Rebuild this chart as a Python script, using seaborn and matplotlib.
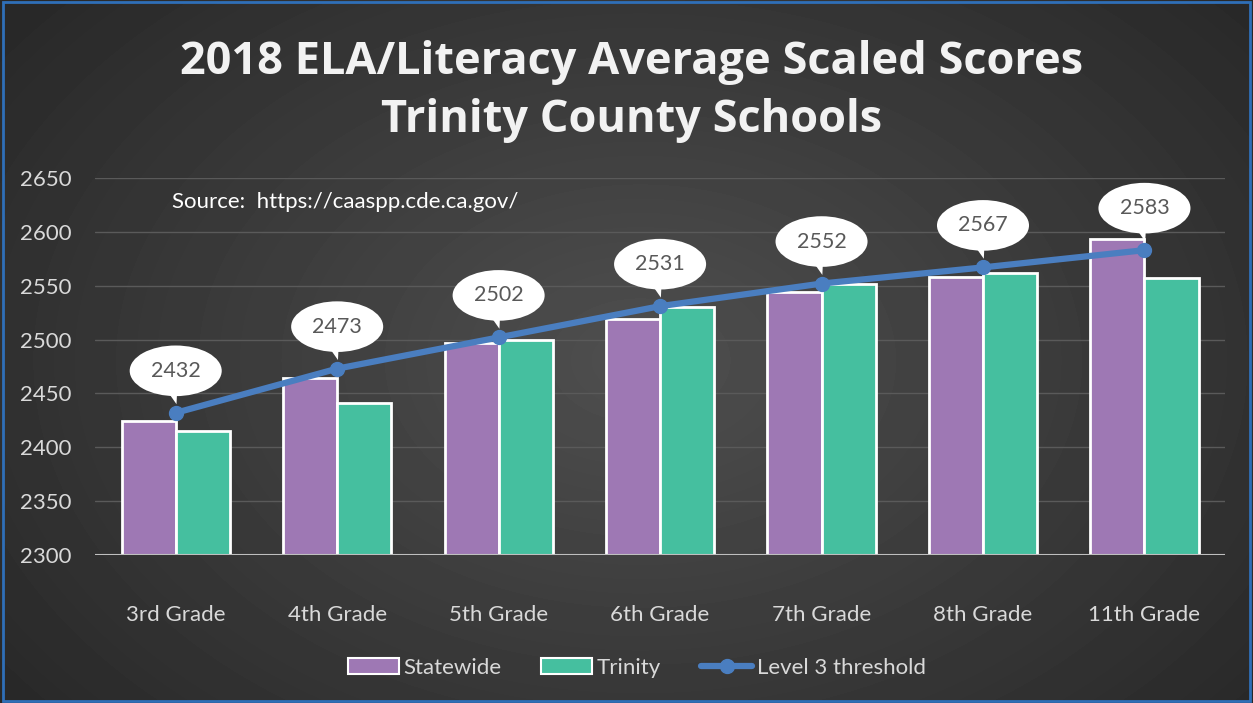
import numpy as np
import pandas as pd
import matplotlib.pyplot as plt
import matplotlib as mpl
from matplotlib.patches import Ellipse, Polygon, Patch, Rectangle
from matplotlib.lines import Line2D
import seaborn as sns

grades = ['3rd Grade', '4th Grade', '5th Grade', '6th Grade', '7th Grade', '8th Grade', '11th Grade']
statewide = [2424, 2464, 2497, 2519, 2544, 2558, 2593]
trinity = [2415, 2441, 2500, 2530, 2552, 2562, 2557]
threshold = [2432, 2473, 2502, 2531, 2552, 2567, 2583]
yticks = [2300, 2350, 2400, 2450, 2500, 2550, 2600, 2650]

PURPLE = '#9e78b4'
TEAL = '#45bf9f'
BLUE = '#4a7ec0'
TXT = '#d9d9d9'

sns.set_theme(style='dark')
plt.rcParams['font.family'] = ['Lato', 'DejaVu Sans']

fig = plt.figure(figsize=(12.53, 7.03), dpi=100)

# radial dark gradient background
bg = fig.add_axes([0, 0, 1, 1], zorder=-10)
yy, xx = np.mgrid[0:703, 0:1253]
r = np.sqrt(((xx - 640) / 900) ** 2 + ((yy - 360) / 620) ** 2)
shade = np.clip(0.31 - 0.17 * r, 0.11, 0.31)
bg.imshow(shade, cmap='gray', vmin=0, vmax=1, aspect='auto', extent=[0, 1, 0, 1])
bg.axis('off')
fig.patches.append(Rectangle((0.002, 0.003), 0.996, 0.994, transform=fig.transFigure,
                             fill=False, edgecolor='#2f6fb8', linewidth=2))

ax = fig.add_axes([0.0758, 0.2105, 0.902, 0.5363])
ax.set_facecolor('none')

df = pd.DataFrame({
    'grade': grades * 2,
    'score': statewide + trinity,
    'series': ['Statewide'] * len(grades) + ['Trinity'] * len(grades),
})
sns.barplot(data=df, x='grade', y='score', hue='series', palette=[PURPLE, TEAL],
            saturation=1, width=0.67, edgecolor='white', linewidth=2, ax=ax,
            legend=False, zorder=2)

x = np.arange(len(grades))
ax.plot(x, threshold, color=BLUE, linewidth=4.5, marker='o', markersize=10, zorder=4)

# callout balloons
for i, v in enumerate(threshold):
    ax.add_patch(Polygon([(i - 0.07, v + 24), (i + 0.01, v + 24), (i + 0.005, v + 8)],
                         closed=True, facecolor='white', edgecolor='none', zorder=5))
    ax.add_patch(Ellipse((i, v + 39), 0.57, 47, facecolor='white', edgecolor='none', zorder=5))
    ax.text(i, v + 39, f'{v}', ha='center', va='center', fontsize=15.5, color='#595959', zorder=6)

ax.set_xlim(-0.5, len(grades) - 0.5)
ax.set_ylim(2300, 2650)
ax.set_yticks(yticks)
ax.set_yticklabels([str(t) for t in yticks], fontsize=16, color=TXT)
ax.set_xticks(x)
ax.set_xticklabels(grades, fontsize=16, color=TXT)
ax.tick_params(axis='x', pad=36, length=0)
ax.tick_params(axis='y', pad=17, length=0)
ax.set_xlabel('')
ax.set_ylabel('')
ax.grid(axis='y', color='#5a5a5a', linewidth=1, zorder=0)
ax.grid(axis='x', visible=False)
for s in ax.spines.values():
    s.set_visible(False)
ax.axhline(2300, color='#bfbfbf', linewidth=1.5, zorder=3)

ax.text(-0.02, 2628, 'Source:  https://caaspp.cde.ca.gov/', fontsize=16, color='white',
        ha='left', va='center')

title_font = dict(ha='center', va='center', fontsize=32.5, fontweight='bold', color='#f2f2f2',
                  family=['Open Sans', 'DejaVu Sans'])
fig.text(0.504, 0.911, '2018 ELA/Literacy Average Scaled Scores', **title_font)
fig.text(0.504, 0.828, 'Trinity County Schools', **title_font)

handles = [
    Patch(facecolor=PURPLE, edgecolor='white', linewidth=1.5, label='Statewide'),
    Patch(facecolor=TEAL, edgecolor='white', linewidth=1.5, label='Trinity'),
    Line2D([0], [0], color=BLUE, linewidth=4.5, marker='o', markersize=10, label='Level 3 threshold'),
]
fig.legend(handles=handles, loc='center', bbox_to_anchor=(0.508, 0.05), ncol=3, frameon=False,
           fontsize=16, labelcolor=TXT, handlelength=2.3, handletextpad=0.2, columnspacing=1.8)

fig.savefig('out.png', dpi=100)
